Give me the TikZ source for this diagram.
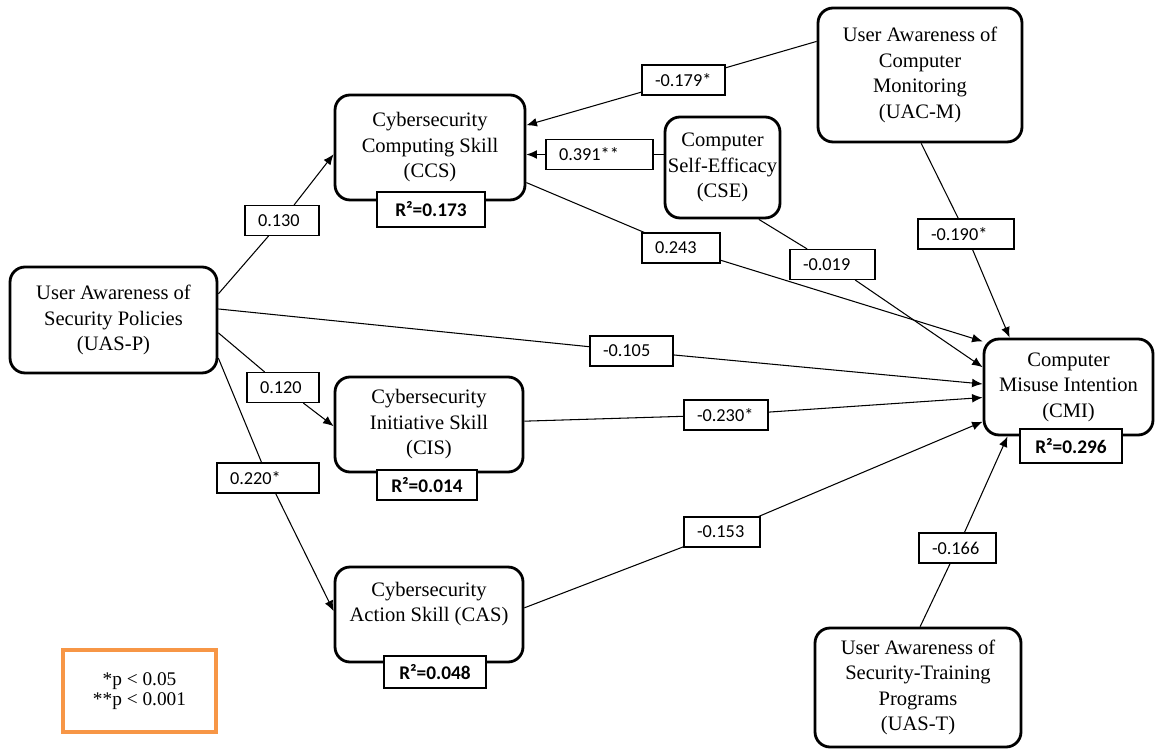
\documentclass[tikz,border=0pt]{standalone}
\usepackage{fontspec}
\setmainfont{Liberation Serif}
\newfontfamily\coeffont{Carlito}
\usepackage{xcolor}
\usetikzlibrary{arrows.meta, positioning}
\definecolor{legendorange}{RGB}{247, 150, 70}

\begin{document}
\begin{tikzpicture}[
    x=0.02cm, y=-0.02cm,
    construct/.style={draw, line width=1.6pt, rounded corners=0.3cm, fill=white,
                      align=center, inner xsep=1pt,
                      font=\fontsize{11.7}{14.5}\selectfont},
    coef/.style={draw, line width=0.6pt, fill=white, align=left, text width=#1,
                 inner xsep=0.26cm, minimum height=0.6cm,
                 font=\coeffont\fontsize{10.4}{12}\selectfont},
    rsq/.style={draw, line width=0.8pt, fill=white,
                font=\coeffont\bfseries\fontsize{11}{13}\selectfont},
    arrow/.style={-{Latex[length=6pt, width=5pt]}, line width=0.6pt},
    link/.style={line width=0.6pt}
]
    \useasboundingbox (0,0) rectangle (1155,749);

    % constructs
    \node[construct, minimum width=4.14cm, minimum height=2.12cm] (uasp) at (113.5,320)
        {User Awareness of\\Security Policies\\(UAS-P)};
    \node[construct, minimum width=3.8cm, minimum height=2.1cm] (ccs) at (430,147.5)
        {Cybersecurity\\Computing Skill\\(CCS)};
    \node[construct, minimum width=2.3cm, minimum height=2.02cm] (cse) at (722.5,167.5)
        {Computer\\Self-Efficacy\\(CSE)};
    \node[construct, minimum width=4.08cm, minimum height=2.68cm] (uacm) at (920,75)
        {User Awareness of\\Computer\\Monitoring\\(UAC-M)};
    \node[construct, minimum width=3.38cm, minimum height=1.92cm] (cmi) at (1068.5,387)
        {Computer\\Misuse Intention\\(CMI)};
    \node[construct, minimum width=3.76cm, minimum height=1.9cm] (cis) at (429,424.5)
        {Cybersecurity\\Initiative Skill\\(CIS)};
    \node[construct, minimum width=3.76cm, minimum height=1.9cm] (cas) at (429,614.5)
        {Cybersecurity\\Action Skill (CAS)\\~};
    \node[construct, minimum width=4.12cm, minimum height=2.38cm] (uast) at (918,687.5)
        {User Awareness of\\Security-Training\\Programs\\(UAS-T)};

    % explained variance
    \node[rsq, minimum width=2.16cm, minimum height=0.7cm] (ccsr) at (431,209.5) {R²=0.173};
    \node[rsq, minimum width=2.04cm, minimum height=0.68cm] (cmir) at (1071,446) {R²=0.296};
    \node[rsq, minimum width=2cm, minimum height=0.6cm] (cisr) at (427,485) {R²=0.014};
    \node[rsq, minimum width=2.04cm, minimum height=0.64cm] (casr) at (435,672) {R²=0.048};

    % path coefficients
    \node[coef=0.96cm] (c130) at (282,220.5) {0.130};
    \node[coef=1.14cm] (c179) at (683.5,80) {-0.179*};
    \node[coef=1.62cm] (c391) at (599.5,154.5) {0.391**};
    \node[coef=1.04cm] (c243) at (681,248) {0.243};
    \node[coef=1.18cm] (c019) at (832.5,264.5) {-0.019};
    \node[coef=1.40cm] (c190) at (966,234) {-0.190*};
    \node[coef=1.14cm] (c105) at (631.5,351) {-0.105};
    \node[coef=0.92cm] (c120) at (283,387.5) {0.120};
    \node[coef=1.16cm] (c230) at (726,415) {-0.230*};
    \node[coef=1.52cm] (c220) at (268,478) {0.220*};
    \node[coef=1.00cm] (c153) at (722,532) {-0.153};
    \node[coef=1.02cm] (c166) at (957.5,548) {-0.166};

    % paths
    \draw[link] (uasp.14.6) -- (c130);
    \draw[arrow] (c130) -- (ccs.184.9);
    \draw[link] (uacm.162.6) -- (c179);
    \draw[arrow] (c179) -- (ccs.13.5);
    \draw[link] (cse.west |- c391) -- (c391);
    \draw[arrow] (c391) -- (c391 -| ccs.east);
    \draw[link] (ccs.-20.3) -- (c243);
    \draw[arrow] (c243) -- (cmi.152.9);
    \draw[link] (cse.-55.7) -- (c019);
    \draw[arrow] (c019) -- (cmi.167.9);
    \draw[link] (uacm.-89) -- (c190);
    \draw[arrow] (c190) -- (cmi.140.6);
    \draw[link] (uasp.6.6) -- (c105);
    \draw[arrow] (c105) -- (cmi.178.6);
    \draw[link] (uasp.-7.1) -- (c120);
    \draw[arrow] (c120) -- (cis.181.5);
    \draw[link] (cis.2.8) -- (c230);
    \draw[arrow] (c230) -- (cmi.187.5);
    \draw[link] (uasp.-20.1) -- (c220);
    \draw[arrow] (c220) -- (cas.178.5);
    \draw[link] (cas.4) -- (c153);
    \draw[arrow] (c153) -- (cmi.202.6);
    \draw[link] (uast.88) -- (c166);
    \draw[arrow] (c166) -- (cmi.219.7);

    % significance legend
    \node[draw=legendorange, line width=1.8pt, minimum width=3.06cm, minimum height=1.64cm,
          align=center, font=\fontsize{11}{11.5}\selectfont] (legend) at (139.5,691)
        {*p < 0.05\\**p < 0.001};
\end{tikzpicture}
\end{document}
